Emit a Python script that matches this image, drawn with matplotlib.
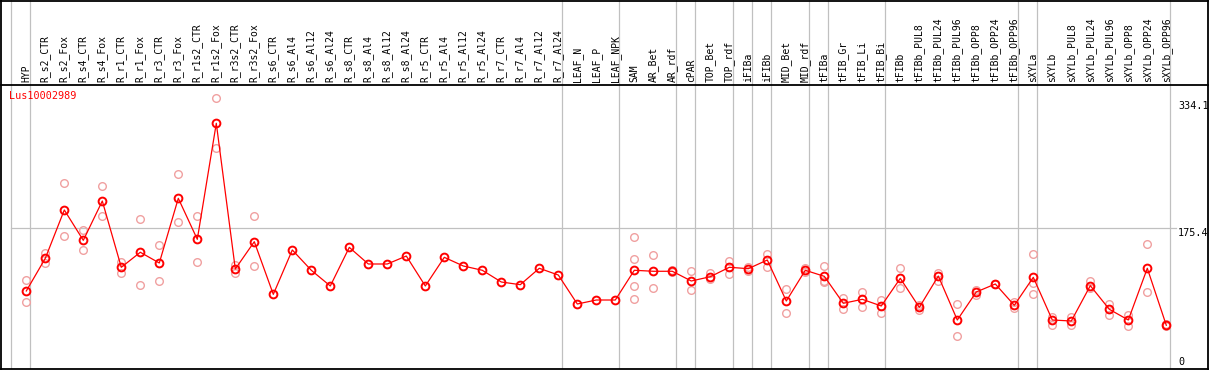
import matplotlib
matplotlib.use("Agg")
import matplotlib.pyplot as plt
from matplotlib.lines import Line2D

categories = ["HYP", "R_s2_CTR", "R_s2_Fox", "R_s4_CTR", "R_s4_Fox", "R_r1_CTR", "R_r1_Fox",
              "R_r3_CTR", "R_r3_Fox", "R_r1s2_CTR", "R_r1s2_Fox", "R_r3s2_CTR", "R_r3s2_Fox",
              "R_s6_CTR", "R_s6_Al4", "R_s6_Al12", "R_s6_Al24", "R_s8_CTR", "R_s8_Al4",
              "R_s8_Al12", "R_s8_Al24", "R_r5_CTR", "R_r5_Al4", "R_r5_Al12", "R_r5_Al24",
              "R_r7_CTR", "R_r7_Al4", "R_r7_Al12", "R_r7_Al24", "LEAF_N", "LEAF_P", "LEAF_NPK",
              "SAM", "AR_Bet", "AR_rdf", "cPAR", "TOP_Bet", "TOP_rdf", "iFIBa", "iFIBb",
              "MID_Bet", "MID_rdf", "tFIBa", "tFIB_Gr", "tFIB_Li", "tFIB_Bi", "tFIBb",
              "tFIBb_PUL8", "tFIBb_PUL24", "tFIBb_PUL96", "tFIBb_OPP8", "tFIBb_OPP24",
              "tFIBb_OPP96", "sXYLa", "sXYLb", "sXYLb_PUL8", "sXYLb_PUL24", "sXYLb_PUL96",
              "sXYLb_OPP8", "sXYLb_OPP24", "sXYLb_OPP96"]

means = [92.7, 135.3, 198.4, 158.8, 210.1, 123.6, 143.2, 129.2, 213.6, 160.1, 311.5, 121.4, 157.0,
         88.3, 146.2, 119.7, 99.2, 149.6, 127.9, 127.9, 138.3, 99.2, 136.6, 125.3, 119.7,
         104.4, 100.9, 122.3, 113.5, 75.7, 80.9, 80.9,
         119.7, 118.4, 118.4, 105.7, 111.3, 123.6, 121.8, 133.1,
         79.6, 119.7, 111.8, 76.6, 81.8, 73.1, 109.2,
         71.3, 112.2, 54.8, 91.4, 101.8, 74.0,
         110.5, 54.8, 53.5, 99.6, 68.8, 54.8, 122.3, 47.9]

replicates = [[107.0, 77.9], [142.7, 129.6], [233.2, 164.4], [171.9, 145.8], [229.3, 190.2],
              [130.9, 115.7], [186.2, 100.1], [152.3, 105.3], [245.0, 182.3], [190.6, 130.5],
              [344.2, 278.9], [126.6, 115.7], [190.2, 125.3],
              [], [], [], [], [], [], [], [], [], [], [], [], [], [], [], [], [], [], [],
              [162.7, 134.0, 99.2, 82.2], [139.6, 96.2], [119.7, 116.9], [118.4, 93.6],
              [115.7, 108.3], [131.8, 114.4], [124.4, 118.8], [141.0, 124.4],
              [94.9, 63.5], [122.8, 116.9], [125.3, 105.7, 104.4], [83.9, 69.6], [91.4, 72.2],
              [80.9, 64.3], [122.3, 96.2],
              [74.4, 67.9], [116.6, 105.7], [75.3, 34.4], [94.0, 87.4], [101.8, 101.8], [78.7, 70.0],
              [140.5, 102.7, 88.3], [59.2, 48.3], [59.2, 48.3], [105.7, 96.2], [75.7, 61.8],
              [61.3, 47.0], [153.6, 91.0], [49.2, 47.0]]

separators = [-1, 0, 28, 31, 34, 35, 37, 38, 39, 41, 42, 45, 52, 53, 60]
tick_values = [334.1, 175.4, 0]
gene = "Lus10002989"

W, H = 1209, 370
fig = plt.figure(figsize=(W / 100, H / 100), dpi=100)

x0 = -26.3 / 19
x1 = (W - 26.3) / 19
ylo, yhi = -9.14, 361.5
gray = "#c0c0c0"
mono = "DejaVu Sans Mono"

# plot area: pixel rows 85..369
ax = fig.add_axes([0, (H - 369) / H, 1, (369 - 85) / H])
ax.set_xlim(x0, x1)
ax.set_ylim(ylo, yhi)
ax.set_xticks([])
ax.set_yticks([])
for s in ax.spines.values():
    s.set_visible(False)

# label area: pixel rows 0..85
lax = fig.add_axes([0, (H - 85) / H, 1, 85 / H])
lax.set_xlim(x0, x1)
lax.set_ylim(0, 1)
lax.set_xticks([])
lax.set_yticks([])
for s in lax.spines.values():
    s.set_visible(False)

for sp in separators:
    ax.axvline(sp + 0.22, color=gray, lw=0.9, zorder=1)
    lax.axvline(sp + 0.22, color=gray, lw=0.9, zorder=1)

# horizontal reference line
ax.plot([-1 + 0.22, 60 + 0.5], [tick_values[1]] * 2, color=gray, lw=0.9, zorder=1)

xs = list(range(len(categories)))
for i, reps in enumerate(replicates):
    if reps:
        ax.plot([i] * len(reps), reps, linestyle="none", marker="o", ms=5.5, mfc="none",
                mec="#f0a0a0", mew=1.0, zorder=2)
ax.plot(xs, means, color="#ff0000", lw=0.9, marker="o", ms=5.6, mfc="none",
        mec="#ff0000", mew=1.4, zorder=3)

for i, c in enumerate(categories):
    lax.text(i, 0.03, c, rotation=90, ha="center", va="bottom", fontsize=7,
             family=mono, color="black")

ax.text(9 / W, 1 - 6 / (369 - 85), gene, transform=ax.transAxes, ha="left", va="top",
        fontsize=7.3, family=mono, color="#ff0000")

tick_va = ["center", "top", "center"]
for v, va in zip(tick_values, tick_va):
    ax.text(1178 / W, v, f"{v:g}", transform=ax.get_yaxis_transform(), ha="left", va=va,
            fontsize=7.3, family=mono, color="black")

# outer frame and separator line (figure pixel coords)
def fx(px):
    return px / W

def fy(py):
    return 1 - py / H

frame = [((1, 0.5), (1207.5, 0.5)), ((1, 0), (1, 369.5)), ((1207.5, 0), (1207.5, 369.5)),
         ((1, 369), (1207.5, 369)), ((1, 85), (1207.5, 85))]
for (ax_, ay_), (bx_, by_) in frame:
    fig.add_artist(Line2D([fx(ax_), fx(bx_)], [fy(ay_), fy(by_)], color="black", lw=1.3,
                          transform=fig.transFigure))

fig.savefig("out.png", dpi=100)
